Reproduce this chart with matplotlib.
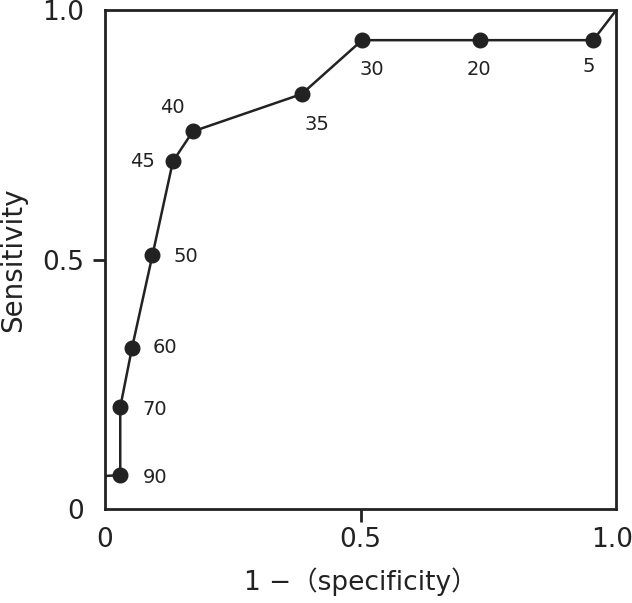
import matplotlib
matplotlib.use("Agg")
import matplotlib.pyplot as plt
from matplotlib.transforms import ScaledTranslation

plt.rcParams['font.family'] = ['DejaVu Sans', 'Noto Sans CJK JP']

# ROC data (1 - specificity, sensitivity) with cut-off labels
fpr = [0.0, 0.030, 0.030, 0.053, 0.093, 0.133, 0.172, 0.385, 0.503, 0.734, 0.955, 1.0]
tpr = [0.066, 0.068, 0.204, 0.323, 0.509, 0.697, 0.757, 0.832, 0.940, 0.940, 0.940, 1.0]
cutoffs = ["", "90", "70", "60", "50", "45", "40", "35", "30", "20", "5", ""]
label_offsets = [None, (25, -2), (25, -2), (24, 0), (24, -1), (-22, 0), (-15, 17),
                 (11, -22), (7, -21), (-1, -21), (-3, -19), None]

tick_vals = [0, 0.5, 1.0]
tick_labels = ["0", "0.5", "1.0"]

fig = plt.figure(figsize=(6.32, 6.03), dpi=100)
ax = fig.add_axes([0.166, 0.156, 0.809, 0.827])
col = '#222222'

ax.plot(fpr, tpr, '-', color=col, lw=1.8, zorder=2)
ax.plot(fpr[1:-1], tpr[1:-1], 'o', color=col, ms=10.5, zorder=3)

for x, y, lab, off in zip(fpr, tpr, cutoffs, label_offsets):
    if lab:
        ax.annotate(lab, (x, y), xytext=off, textcoords='offset points',
                    ha='center', va='center', fontsize=14, color=col)

ax.set_xlim(0, 1)
ax.set_ylim(0, 1)
ax.set_xticks(tick_vals)
ax.set_xticklabels(tick_labels)
ax.set_yticks(tick_vals)
ax.set_yticklabels(tick_labels)
ax.tick_params(direction='out', length=9, width=2, labelsize=19, colors=col)
ax.tick_params(axis='x', pad=4)
ax.tick_params(axis='y', pad=6)
for axis in (ax.xaxis, ax.yaxis):
    ticks = axis.get_major_ticks()
    for i in (0, 2):
        ticks[i].tick1line.set_visible(False)
# keep the last x tick label inside the figure
lbl = ax.get_xticklabels()[-1]
lbl.set_transform(lbl.get_transform() + ScaledTranslation(-4 / 100, 0, fig.dpi_scale_trans))

for s in ax.spines.values():
    s.set_linewidth(2)
    s.set_color(col)

ax.set_xlabel("1 −（specificity）", fontsize=19, color=col)
ax.set_ylabel("Sensitivity", fontsize=20, color=col)
ax.xaxis.set_label_coords(0.5, -0.117)
ax.yaxis.set_label_coords(-0.152, 0.5)

fig.savefig("out.png", dpi=100)
